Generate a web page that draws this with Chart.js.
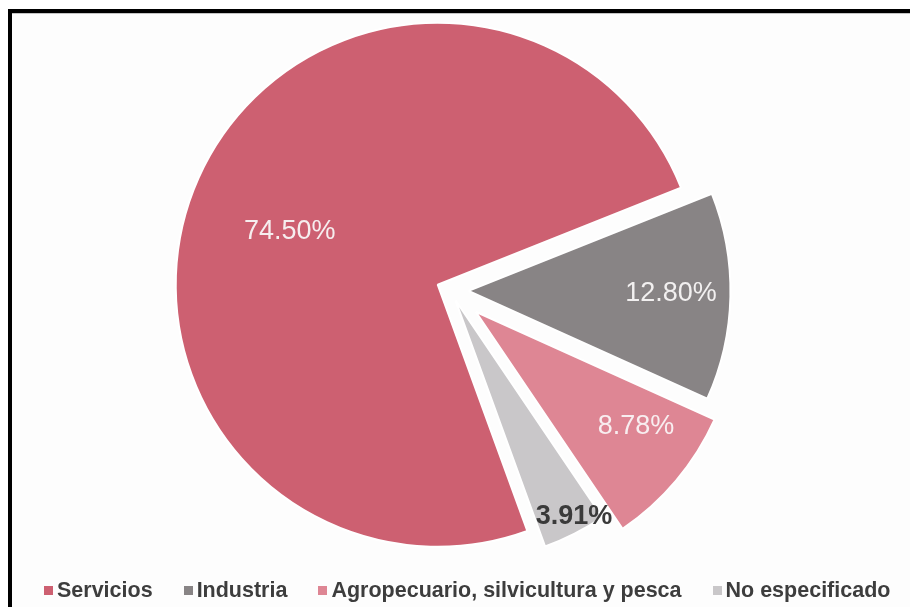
<!DOCTYPE html>
<html lang="es">
<head>
<meta charset="utf-8">
<title>Población ocupada por sector</title>
<script src="https://cdn.jsdelivr.net/npm/chart.js@4.4.1/dist/chart.umd.min.js"></script>
<style>
    html, body { margin: 0; padding: 0; background: #fff; }
    body {
        width: 910px; height: 607px; position: relative; overflow: hidden;
        font-family: "Liberation Sans", Arial, sans-serif;
    }
    .frame {
        position: absolute; left: 8px; top: 9px; width: 920px; height: 620px;
        border-top: 4px solid #000; border-left: 4px solid #000;
        background: #fdfdfd; box-shadow: inset 0 1px 0 #c4c4c4;
    }
    .chart-box { position: absolute; left: 0; top: 0; width: 910px; height: 607px; }
    #legend {
        position: absolute; left: 44px; top: 578px;
        display: flex; align-items: center; white-space: nowrap;
        font-weight: bold; font-size: 21.5px; line-height: 24px; color: #3d3d3d;
    }
    #legend .item { display: flex; align-items: center; margin-right: 31px; }
    #legend .swatch { width: 9px; height: 9px; margin-right: 4px; }
</style>
</head>
<body>
<div class="frame"></div>
<div class="chart-box"><canvas id="sectorChart"></canvas></div>
<div id="legend"></div>

<script>
// --- Datos ---
const categories = ['Servicios', 'Industria', 'Agropecuario, silvicultura y pesca', 'No especificado'];
const shares = [74.50, 12.80, 8.78, 3.91];
const sliceColors = ['#cd6071', '#888485', '#de8694', '#c9c7c9'];

// separación de cada porción respecto al centro (px)
const explodeDistance = [14, 18, 33, 11];

// Mueve cada porción hacia afuera sobre su ángulo medio
const explodePlugin = {
    id: 'explode',
    afterDatasetUpdate(chart, args, opts) {
        const dist = opts.distance || [];
        args.meta.data.forEach((arc, i) => {
            const d = dist[i] || 0;
            const mid = (arc.startAngle + arc.endAngle) / 2;
            arc.x += Math.cos(mid) * d;
            arc.y += Math.sin(mid) * d;
        });
    }
};

// Porcentajes dentro de cada porción
const sliceLabelPlugin = {
    id: 'sliceLabels',
    afterDatasetsDraw(chart, args, opts) {
        const ctx = chart.ctx;
        const meta = chart.getDatasetMeta(0);
        ctx.save();
        ctx.textAlign = 'center';
        ctx.textBaseline = 'middle';
        meta.data.forEach((arc, i) => {
            const angle = (arc.startAngle + arc.endAngle) / 2 + opts.turn[i] * Math.PI / 180;
            const r = arc.outerRadius * opts.radial[i];
            ctx.font = opts.weight[i] + ' 27px "Liberation Sans", Arial, sans-serif';
            ctx.fillStyle = opts.color[i];
            ctx.fillText(shares[i].toFixed(2) + '%', arc.x + Math.cos(angle) * r, arc.y + Math.sin(angle) * r);
        });
        ctx.restore();
    }
};

const ctx = document.getElementById('sectorChart');

new Chart(ctx, {
    type: 'pie',
    data: {
        labels: categories,
        datasets: [{
            data: shares,
            backgroundColor: sliceColors,
            borderColor: '#ffffff',
            borderWidth: 2,
            radius: 262
        }]
    },
    options: {
        responsive: true,
        maintainAspectRatio: false,
        animation: false,
        events: [],
        rotation: 160,
        layout: { padding: { left: 0, right: 9, top: 0, bottom: 26 } },
        plugins: {
            legend: { display: false },
            tooltip: { enabled: false },
            explode: { distance: explodeDistance },
            sliceLabels: {
                radial: [0.6, 0.773, 0.753, 0.94],
                turn: [-4.3, -0.5, -4.4, -1.7],
                weight: ['normal', 'normal', 'normal', 'bold'],
                color: ['#f6eeef', '#f2f0f0', '#f8eef0', '#3a3a3a']
            }
        }
    },
    plugins: [explodePlugin, sliceLabelPlugin]
});

// Leyenda inferior
const legendEl = document.getElementById('legend');
categories.forEach((name, i) => {
    const item = document.createElement('span');
    item.className = 'item';
    item.innerHTML = `<span class="swatch" style="background:${sliceColors[i]}"></span>${name}`;
    legendEl.appendChild(item);
});
</script>
</body>
</html>
